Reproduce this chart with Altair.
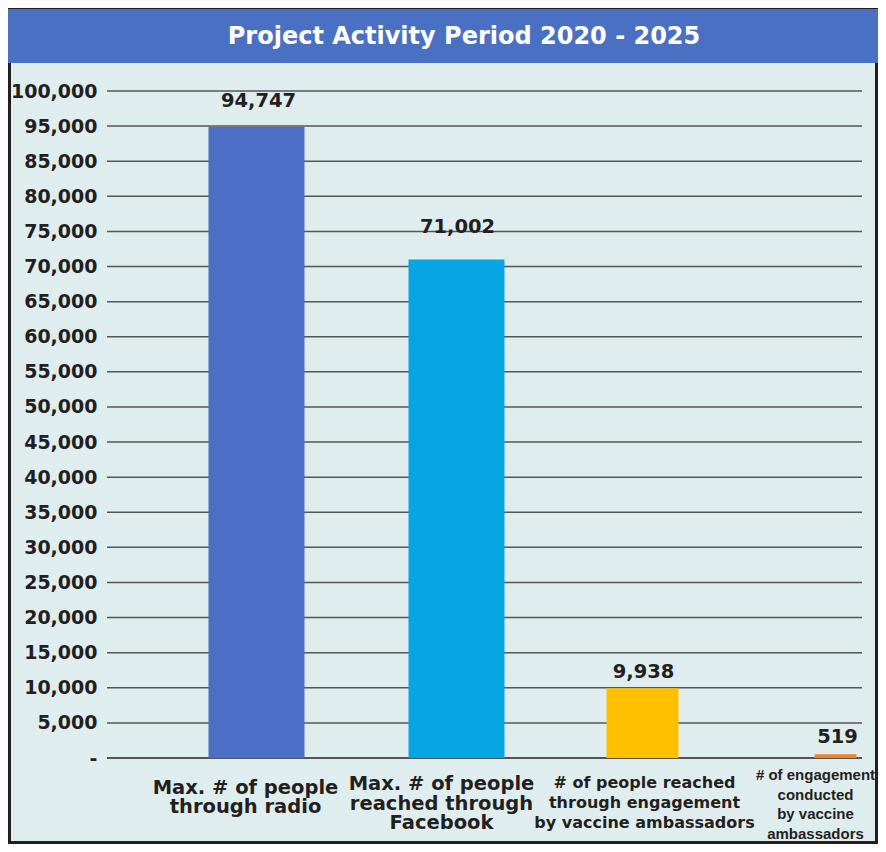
import altair as alt
import pandas as pd

# ---- data ----
TITLE = "Project Activity Period 2020 - 2025"
keys = ["radio", "facebook", "people", "engagement"]
labels = [
    "Max. # of people\nthrough radio",
    "Max. # of people\nreached through\nFacebook",
    "# of people reached\nthrough engagement\nby vaccine ambassadors",
    "# of engagement\nconducted\nby vaccine\nambassadors",
]
values = [94747, 71002, 9938, 519]
tick_values = [0, 5000, 10000, 15000, 20000, 25000, 30000, 35000, 40000, 45000,
               50000, 55000, 60000, 65000, 70000, 75000, 80000, 85000, 95000, 100000]

df = pd.DataFrame({"key": keys, "label": labels, "value": values})
grid_df = pd.DataFrame({"tick": tick_values})

# ---- layout ----
W, H = 755, 667
PAD = {"left": 99, "top": 83, "right": 16, "bottom": 86}
n_lines = len(tick_values) - 1
step = H / n_lines
# gridlines are evenly spaced in the original even though 90,000 is skipped
y_scale = alt.Scale(domain=[0, 85000, 95000, 100000],
                    range=[H, H - 17 * step, H - 18 * step, 0],
                    nice=False, zero=False)
x_scale = alt.Scale(domain=keys, range=[53, 825], paddingInner=0, paddingOuter=0)

TEXT = "#231f20"
styles = {
    "radio":      dict(color="#4a6fc4", width=96, xoff=0, vdx=2, vdy=-20, ldx=-11, ldy=30,
                       font="DejaVu Sans", lsize=19.5, lh=18.5),
    "facebook":   dict(color="#05a5e3", width=96, xoff=7, vdx=8, vdy=-26, ldx=-8, ldy=26,
                       font="DejaVu Sans", lsize=19.5, lh=19.5),
    "people":     dict(color="#ffc000", width=72, xoff=0, vdx=1, vdy=-10, ldx=2, ldy=25,
                       font="DejaVu Sans", lsize=16, lh=20),
    "engagement": dict(color="#f58220", width=42, xoff=0, vdx=2, vdy=-11, ldx=-20, ldy=17,
                       font="Liberation Sans", lsize=15, lh=19.5),
}

base = alt.Chart(df)

y_axis = alt.Axis(
    values=tick_values,
    labelExpr="datum.value === 0 ? '-\u00a0' : format(datum.value, ',')",
    grid=False, domain=False, ticks=False,
    labelFont="DejaVu Sans", labelFontWeight="bold", labelFontSize=19,
    labelColor=TEXT, labelPadding=10, title=None,
)

deco = alt.Chart(alt.Data(values=[{"d": 0}]))
frame = deco.mark_rect(fillOpacity=0, stroke=TEXT, strokeWidth=3).encode(
    x=alt.value(-PAD["left"] + 1.5), x2=alt.value(W + PAD["right"] - 1.5),
    y=alt.value(-PAD["top"] + 1.5), y2=alt.value(H + PAD["bottom"] - 1.5))
title_bar = deco.mark_rect(fill="#4a70c4").encode(
    x=alt.value(-PAD["left"]), x2=alt.value(W + PAD["right"]),
    y=alt.value(-PAD["top"] + 1), y2=alt.value(-28))
title_text = deco.mark_text(font="DejaVu Sans", fontWeight="bold", fontSize=24,
                            color="white", align="center", baseline="alphabetic").encode(
    x=alt.value(357), y=alt.value(-47), text=alt.value(TITLE))

grid = alt.Chart(grid_df).mark_rule(strokeWidth=1.5).encode(
    y=alt.Y("tick:Q", scale=y_scale, axis=y_axis),
    x=alt.value(0), x2=alt.value(W),
    color=alt.condition(alt.datum.tick == 0, alt.value(TEXT), alt.value("#555555")),
)

layers = [frame, title_bar, title_text, grid]
for i, k in enumerate(keys):
    s = styles[k]
    sub = base.transform_filter(alt.datum.key == k)
    xenc = alt.X("key:N", scale=x_scale, axis=None)
    bar = sub.mark_bar(color=s["color"], width=s["width"], xOffset=s["xoff"]).encode(
        x=xenc,
        y=alt.Y("value:Q", scale=y_scale, axis=y_axis),
    )
    val = sub.mark_text(font="DejaVu Sans", fontWeight="bold", fontSize=19.5, color=TEXT,
                        align="center", baseline="alphabetic",
                        dx=s["vdx"], dy=s["vdy"]).encode(
        x=xenc,
        y=alt.Y("value:Q", scale=y_scale, axis=y_axis),
        text=alt.Text("value:Q", format=","),
    )
    lab = sub.mark_text(font=s["font"], fontWeight="bold", fontSize=s["lsize"], color=TEXT,
                        align="center", baseline="middle", lineBreak="\n",
                        lineHeight=s["lh"], dx=s["ldx"], dy=s["ldy"]).encode(
        x=xenc,
        y=alt.datum(0, scale=y_scale, axis=y_axis),
        text="label:N",
    )
    layers += [bar, val, lab]

chart = alt.layer(*layers).properties(
    width=W, height=H,
    padding=PAD,
    autosize=alt.AutoSizeParams(type="none"),
    background="#e0edee",
).configure_view(stroke=None)

chart.save("out.html", embed_options={"renderer": "svg", "actions": False})
